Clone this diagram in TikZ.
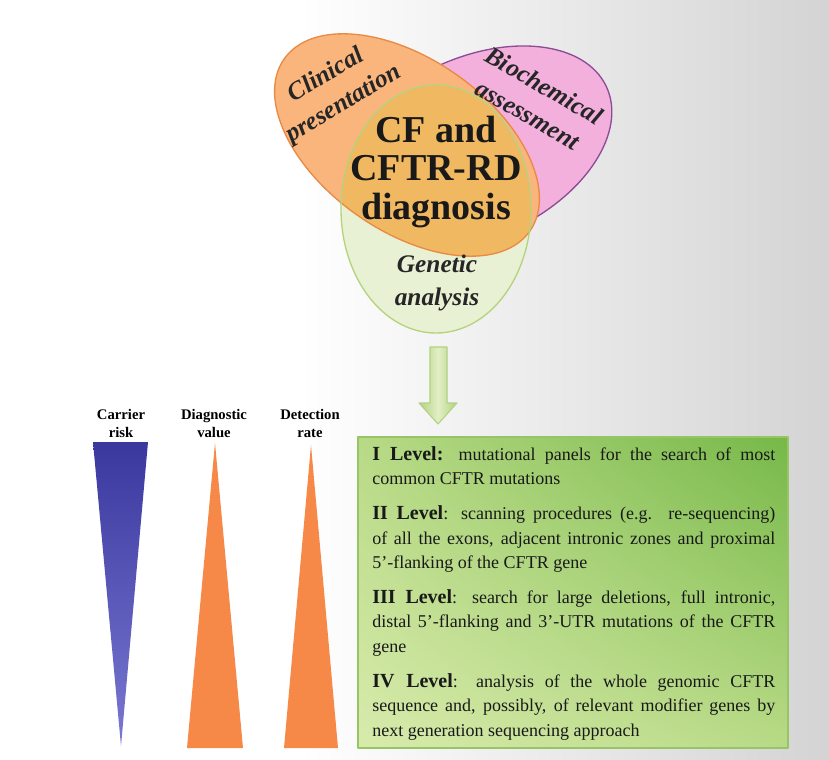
\documentclass[tikz,border=0pt]{standalone}
\usepackage{fontspec}
\setmainfont{Liberation Serif}
\usetikzlibrary{positioning,shadings}
\definecolor{clinfill}{RGB}{249,181,124}
\definecolor{clinedge}{RGB}{232,138,70}
\definecolor{biofill}{RGB}{243,176,220}
\definecolor{bioedge}{RGB}{140,76,150}
\definecolor{genfill}{RGB}{232,241,212}
\definecolor{genedge}{RGB}{182,211,124}
\definecolor{coremix}{RGB}{240,184,96}
\definecolor{risktop}{RGB}{58,56,158}
\definecolor{riskbot}{RGB}{122,120,210}
\definecolor{rateorange}{RGB}{247,137,72}
\definecolor{boxdark}{RGB}{118,184,72}
\definecolor{boxmid}{RGB}{184,218,134}
\definecolor{boxlight}{RGB}{216,235,172}
\definecolor{boxedge}{RGB}{150,196,102}
\definecolor{arrowlight}{RGB}{226,238,196}
\definecolor{arrowedge}{RGB}{178,210,130}
\newcommand\lvlhead[1]{{\fontsize{15}{18}\selectfont\bfseries #1}}
\begin{document}
\begin{tikzpicture}[x=0.75pt,y=-0.75pt,line join=round,
    venn/.style={line width=1pt},
    clinrot/.style={rotate around={-35:(407,145)}},
    biorot/.style={rotate around={25:(475,148)}},
    tag/.style={font=\fontsize{19}{25}\selectfont\bfseries\itshape,align=center,text=black!85},
    core/.style={font=\fontsize{28.5}{29}\selectfont\bfseries,align=center,text=black!90},
    trilabel/.style={font=\fontsize{11}{13.5}\selectfont\bfseries,align=center},
    levels/.style={anchor=north west,inner sep=0pt,text width=302.25pt,align=justify,
      font=\fontsize{13.5}{18.3}\selectfont,text=black!90}]
    % background
    \useasboundingbox (0,0) rectangle (829,760);
    \fill[white] (0,0) rectangle (300,760);
    \shade[left color=white,right color=black!17] (299,0) rectangle (829,760);

    % three sources of the diagnosis
    \fill[biofill,biorot] (475,148) ellipse [x radius=145,y radius=90];
    \draw[bioedge,venn,biorot] (475,148) ellipse [x radius=145,y radius=90];
    \fill[clinfill,clinrot] (407,145) ellipse [x radius=150,y radius=86];
    \fill[genfill] (436,209) ellipse [x radius=95,y radius=124];
    \begin{scope}
        \clip (436,209) ellipse [x radius=95,y radius=124];
        \fill[coremix,clinrot] (407,145) ellipse [x radius=150,y radius=86];
    \end{scope}
    \draw[clinedge,venn,clinrot] (407,145) ellipse [x radius=150,y radius=86];
    \draw[genedge,venn] (436,209) ellipse [x radius=95,y radius=124];

    \node[tag,rotate=31] (clin) at (335,90) {Clinical\\presentation};
    \node[tag,rotate=-30] (bio) at (536,100) {Biochemical\\assessment};
    \node[tag] (gen) at (437,283) {Genetic\\analysis};
    \node[core] (core) at (436,172) {CF and\\CFTR-RD\\diagnosis};

    % arrow down to the levels
    \shade[left color=arrowedge,right color=arrowedge,middle color=arrowlight]
        (430,347) -- (447,347) -- (447,403) -- (457,403) -- (438,424) -- (419,403) -- (430,403) -- cycle;
    \draw[arrowedge,line width=0.8pt]
        (430,347) -- (447,347) -- (447,403) -- (457,403) -- (438,424) -- (419,403) -- (430,403) -- cycle;

    % wedges
    \shade[top color=risktop,bottom color=riskbot] (93,442) -- (148,442) -- (121,746) -- cycle;
    \fill[rateorange] (215,443) -- (243,748) -- (187,748) -- cycle;
    \fill[rateorange] (311,445) -- (338,748) -- (284,748) -- cycle;
    \node[trilabel] (carrier) at (121,423) {Carrier\\risk};
    \node[trilabel] (diagval) at (214,423) {Diagnostic\\value};
    \node[trilabel] (detrate) at (310,423) {Detection\\rate};

    % levels of the genetic analysis
    \shade[upper right=boxdark,upper left=boxmid,lower left=boxlight,lower right=boxmid]
        (358,437) rectangle (788,748);
    \draw[boxedge,line width=1.2pt] (358,437) rectangle (788,748);
    \node[levels] (levels) at (372,446) {\noindent
        \lvlhead{I Level:} mutational panels for the search of most\linebreak
        common CFTR mutations\\[8pt]
        \lvlhead{II Level}: scanning procedures (e.g. re-sequencing)\linebreak
        of all the exons, adjacent intronic zones and proximal\linebreak
        5'-flanking of the CFTR gene\\[8pt]
        \lvlhead{III Level}: search for large deletions, full intronic,\linebreak
        distal 5'-flanking and 3'-UTR mutations of the CFTR\linebreak
        gene\\[8pt]
        \lvlhead{IV Level}: analysis of the whole genomic CFTR\linebreak
        sequence and, possibly, of relevant modifier genes by\linebreak
        next generation sequencing approach};
\end{tikzpicture}
\end{document}
